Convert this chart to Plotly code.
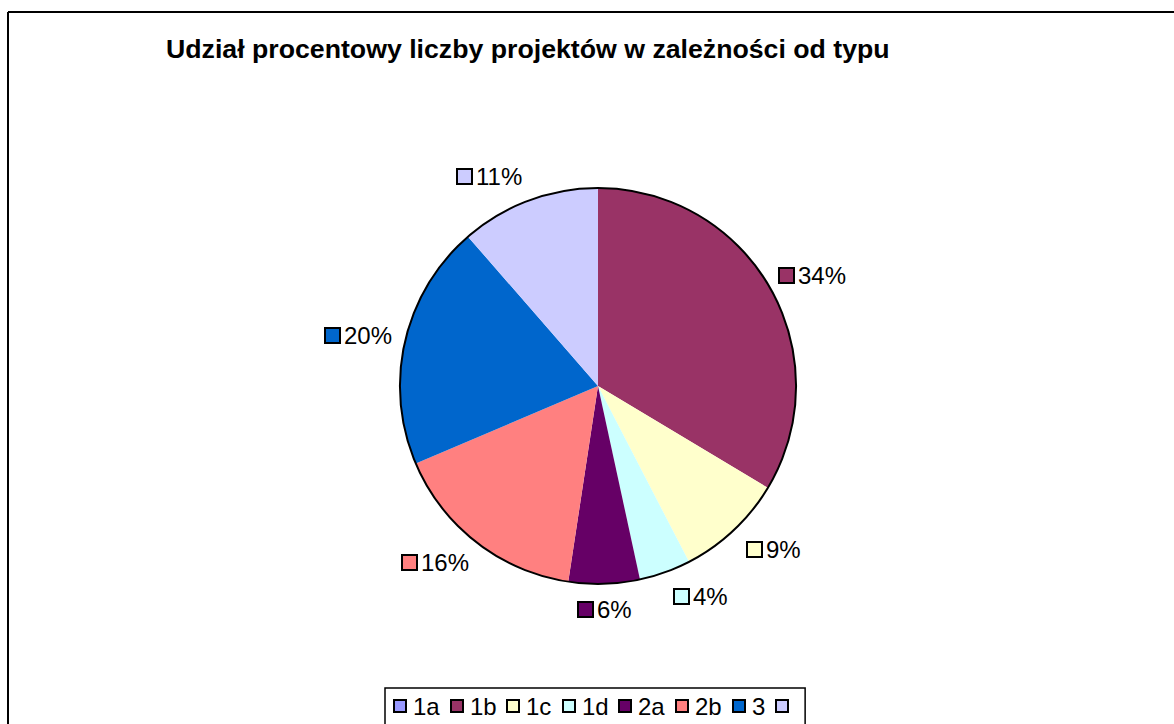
import math
import plotly.graph_objects as go

# ---- data ----
categories = ["1a", "1b", "1c", "1d", "2a", "2b", "3", ""]
shares = [0.0, 33.6, 8.8, 4.2, 5.8, 16.2, 20.0, 11.4]   # percent of projects
colors = ["#9999FF", "#993366", "#FFFFCC", "#CCFFFF", "#660066", "#FF8080", "#0066CC", "#CCCCFF"]
title_text = "Udział procentowy liczby projektów w zależności od typu"

# ---- layout helpers (pixel -> paper) ----
W, H = 1174, 724
FONT = "Liberation Sans, Arial, sans-serif"
def px(x):
    return x / W
def py(y):
    return 1 - y / H

CHAR_W = {"%": 0.889, " ": 0.278, "c": 0.5}
def text_width(s, size):
    return sum(CHAR_W.get(ch, 0.556) for ch in s) * size

CX, CY, R = 598, 386, 198
dom = dict(x=[px(CX - R), px(CX + R)], y=[py(CY + R), py(CY - R)])

fig = go.Figure()
pie_labels = [c if c else "(brak)" for c in categories]
fig.add_trace(go.Pie(labels=pie_labels, values=shares, sort=False, direction="clockwise",
                     rotation=0, textinfo="none", hoverinfo="skip", domain=dom,
                     showlegend=False,
                     marker=dict(colors=colors, line=dict(width=0))))
# outer outline circle
fig.add_trace(go.Pie(labels=["outline"], values=[1], sort=False, textinfo="none",
                     hoverinfo="skip", domain=dom, showlegend=False,
                     marker=dict(colors=["rgba(0,0,0,0)"], line=dict(color="black", width=2))))

annotations = []
shapes = []

def key_square(x_left, y_mid, col, inner):
    return dict(x=px(x_left), y=py(y_mid), xref="paper", yref="paper",
                xanchor="left", yanchor="middle", showarrow=False,
                text=" ", font=dict(size=4), width=inner, height=inner,
                bgcolor=col, bordercolor="black", borderwidth=2, borderpad=0)

def key_text(x_left, y_mid, s, size):
    return dict(x=px(x_left), y=py(y_mid), xref="paper", yref="paper",
                xanchor="left", yanchor="middle", showarrow=False,
                text=s, borderpad=0, borderwidth=0,
                font=dict(size=size, color="black", family=FONT))

# ---- data labels (outside, with coloured key squares) ----
LBL_SIZE = 24
total = sum(shares)
cum = 0.0
RL = 211
for cat, v, col in zip(categories, shares, colors):
    if v <= 0:
        continue
    mid = (cum + v / 2) / total * 2 * math.pi
    cum += v
    ux, uy = math.sin(mid), -math.cos(mid)   # screen coords, y down
    Px, Py = CX + RL * ux, CY + RL * uy
    label = f"{int(v / total * 100 + 0.5)}%"
    gw = 20 + text_width(label, LBL_SIZE)
    if ux > 0.1:
        left = Px + (4 if uy > 0 else -4)
    elif ux < -0.1:
        left = Px - gw
    else:
        left = Px - gw / 2
    cy = Py + 13 * uy
    annotations.append(key_square(left, cy, col, 13))
    annotations.append(key_text(left + 20, cy, label, LBL_SIZE))

# ---- legend (bottom, horizontal, boxed) ----
LEG_SIZE = 24
LEG_LEFT, LEG_TOP, LEG_MID = 385, 688, 706
x = LEG_LEFT + 8
last_sq = x
for cat, col in zip(categories, colors):
    annotations.append(key_square(x, LEG_MID, col, 10))
    last_sq = x
    if cat:
        annotations.append(key_text(x + 20, LEG_MID, cat, LEG_SIZE))
    x += 20 + text_width(cat, LEG_SIZE) + 10
shapes.append(dict(type="rect", xref="paper", yref="paper", layer="below",
                   x0=px(LEG_LEFT), x1=px(last_sq + 12 + 18), y0=py(LEG_TOP), y1=-0.05,
                   line=dict(color="black", width=1.5), fillcolor="white"))

# ---- chart frame ----
shapes += [
    dict(type="line", xref="paper", yref="paper", x0=px(8), y0=py(12), x1=1.02, y1=py(12),
         line=dict(color="black", width=2)),
    dict(type="line", xref="paper", yref="paper", x0=px(8), y0=py(12), x1=px(8), y1=-0.02,
         line=dict(color="black", width=2)),
]

fig.update_layout(
    width=W, height=H,
    margin=dict(l=0, r=0, t=0, b=0),
    paper_bgcolor="white", plot_bgcolor="white",
    font=dict(family=FONT, color="black"),
    title=dict(text=title_text, x=px(166), xanchor="left", xref="paper",
               y=py(49), yanchor="middle", yref="paper",
               font=dict(size=26.7, family=FONT, color="black", weight="bold")),
    showlegend=False,
    annotations=annotations,
    shapes=shapes,
)

fig.write_html("out.html", config={"displayModeBar": False},
               post_script="document.body.style.margin='0';document.body.style.overflow='hidden';")
